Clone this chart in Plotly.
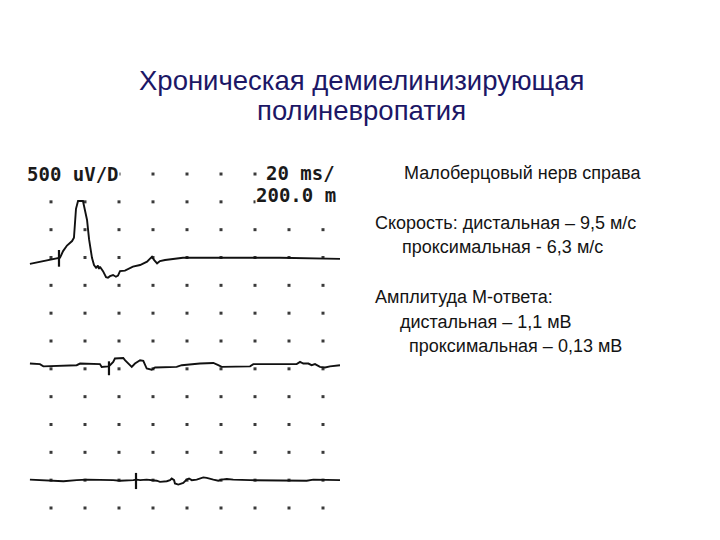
import plotly.graph_objects as go

# Sweep settings: 20 ms per division, 500 uV (0.5 mV) per division
ms_per_div = 20
mv_per_div = 0.5
grid_ms = [20, 40, 60, 80, 100, 120, 140, 160, 180]
grid_div = list(range(0, 13))

# Trace 1: distal stimulation
t1_ms = [7.6, 16.5, 22.4, 25.3, 27.1, 29.4, 32.4, 33.5, 34.7, 35.9, 38.8, 41.2, 42.4, 44.1, 45.3,
         46.5, 47.6, 48.2, 48.8, 50.6, 52.4, 53.5, 54.7, 56.5, 58.2, 59.4, 60.6, 63.5, 68.2, 72.4,
         76.5, 78.2, 79.4, 80.6, 82.4, 84.1, 87.1, 97.6, 117.6, 154.7, 190.0]
t1_mv = [-0.09, -0.04, 0.0, 0.02, 0.14, 0.24, 0.32, 0.38, 0.90, 1.04, 1.04, 0.70, 0.35, 0.02, -0.11,
         -0.16, -0.12, -0.18, -0.14, -0.22, -0.33, -0.34, -0.31, -0.29, -0.32, -0.30, -0.22, -0.21, -0.14, -0.11,
         -0.05, 0.0, 0.04, -0.02, -0.08, -0.04, -0.02, 0.02, 0.02, 0.02, 0.0]
stim1_ms = 24.7
stim1_mv = [0.16, -0.14]
base1_div = 8.95

# Trace 2: proximal stimulation
t2_ms = [7.6, 13.5, 15.5, 35.1, 37.1, 48.8, 49.8, 53.7, 54.7, 56.6, 57.6, 62.5, 63.5, 65.5, 67.5,
         69.4, 72.4, 74.3, 76.3, 79.2, 81.2, 93.9, 96.9, 107.6, 115.5, 118.4, 120.4, 137.1, 139.0,
         164.5, 166.5, 168.4, 171.4, 173.3, 175.3, 178.2, 181.2, 184.1, 190.0]
t2_mv = [0.01, 0.0, -0.04, -0.02, 0.01, 0.0, -0.05, -0.04, -0.02, 0.04, 0.10, 0.11, 0.07, 0.01, -0.05,
         0.01, 0.07, 0.06, -0.08, -0.10, -0.06, -0.05, -0.02, 0.01, 0.02, -0.02, -0.05, -0.04, 0.0,
         0.0, 0.04, 0.01, 0.01, -0.02, 0.0, -0.05, -0.06, -0.04, -0.02]
stim2_ms = 54.1
stim2_mv = [0.05, -0.20]
base2_div = 5.17

# Trace 3: most proximal stimulation
t3_ms = [7.6, 19.4, 27.3, 35.1, 41.0, 56.6, 60.6, 68.4, 70.4, 72.4, 76.3, 82.2, 84.1, 88.1, 90.0,
         91.0, 92.4, 92.9, 94.9, 97.8, 99.8, 101.2, 102.8, 105.7, 107.6, 109.6, 111.6, 113.5, 115.5,
         118.4, 120.4, 123.4, 127.2, 137.1, 166.5, 170.4, 174.3, 190.0]
t3_mv = [0.01, 0.0, -0.02, 0.0, 0.01, 0.0, -0.01, 0.0, 0.01, 0.0, 0.01, -0.01, -0.03, -0.02, 0.0,
         0.03, 0.0, -0.06, -0.08, -0.05, 0.01, 0.03, 0.0, 0.01, 0.03, 0.05, 0.04, 0.02, 0.01,
         -0.01, 0.01, 0.02, 0.01, 0.0, 0.0, -0.01, 0.01, 0.0]
stim3_ms = 70.0
stim3_mv = [0.13, -0.16]
base3_div = 1.0

title_lines = ["Хроническая демиелинизирующая", "полиневропатия"]
info_lines = [
    "Малоберцовый нерв справа",
    "Скорость: дистальная – 9,5 м/с",
    "проксимальная - 6,3 м/с",
    "Амплитуда М-ответа:",
    "дистальная – 1,1 мВ",
    "проксимальная – 0,13 мВ",
]
scale_labels = ["500 uV/D", "20 ms/", "200.0 m"]


def to_div(values, base):
    return [base + v / mv_per_div for v in values]


fig = go.Figure()

# grid dots
gx = [x for y in grid_div for x in grid_ms]
gy = [y for y in grid_div for x in grid_ms]
fig.add_trace(go.Scatter(x=gx, y=gy, mode="markers",
                         marker=dict(symbol="square", size=3, color="#3a3a3a"),
                         hoverinfo="skip", showlegend=False))

for tms, tmv, base, sms, smv in [
    (t1_ms, t1_mv, base1_div, stim1_ms, stim1_mv),
    (t2_ms, t2_mv, base2_div, stim2_ms, stim2_mv),
    (t3_ms, t3_mv, base3_div, stim3_ms, stim3_mv),
]:
    fig.add_trace(go.Scatter(x=tms, y=to_div(tmv, base), mode="lines",
                             line=dict(color="#111111", width=1.9),
                             showlegend=False, hoverinfo="skip"))
    fig.add_trace(go.Scatter(x=[sms, sms], y=to_div(smv, base), mode="lines",
                             line=dict(color="#111111", width=2.2),
                             showlegend=False, hoverinfo="skip"))

mono = dict(family="DejaVu Sans Mono", size=19, color="#1a1a1a")
anns = [
    dict(x=26 / 720, y=1 - 174 / 540, text="<b>" + scale_labels[0] + "</b>", xanchor="left"),
    dict(x=336 / 720, y=1 - 173 / 540, text="<b>" + scale_labels[1] + "</b>", xanchor="right"),
    dict(x=337 / 720, y=1 - 195 / 540, text="<b>" + scale_labels[2] + "</b>", xanchor="right"),
]
for a in anns:
    fig.add_annotation(xref="paper", yref="paper", yanchor="middle", showarrow=False,
                       font=mono, bgcolor="white", borderpad=0, **a)

for txt, py in zip(title_lines, [80, 110]):
    fig.add_annotation(xref="paper", yref="paper", x=361 / 720, y=1 - py / 540, text=txt,
                       xanchor="center", yanchor="middle", showarrow=False,
                       font=dict(family="Liberation Sans", size=27.5, color="#1c1766"))

info_pos = [(402, 173), (373, 223), (400, 247), (373, 297), (398, 322), (407, 346)]
for txt, (px, py) in zip(info_lines, info_pos):
    fig.add_annotation(xref="paper", yref="paper", x=px / 720, y=1 - py / 540, text=txt,
                       xanchor="left", yanchor="middle", showarrow=False,
                       font=dict(family="Liberation Sans", size=18, color="#141414"))

fig.update_layout(
    width=720, height=540,
    margin=dict(l=0, r=0, t=0, b=0),
    paper_bgcolor="white", plot_bgcolor="white",
    xaxis=dict(range=[-10, 413.53], visible=False, fixedrange=True),
    yaxis=dict(range=[-1.15, 18.252], visible=False, fixedrange=True),
)
fig.write_html("out.html", config={"displayModeBar": False},
               post_script="document.body.style.margin='0';")
